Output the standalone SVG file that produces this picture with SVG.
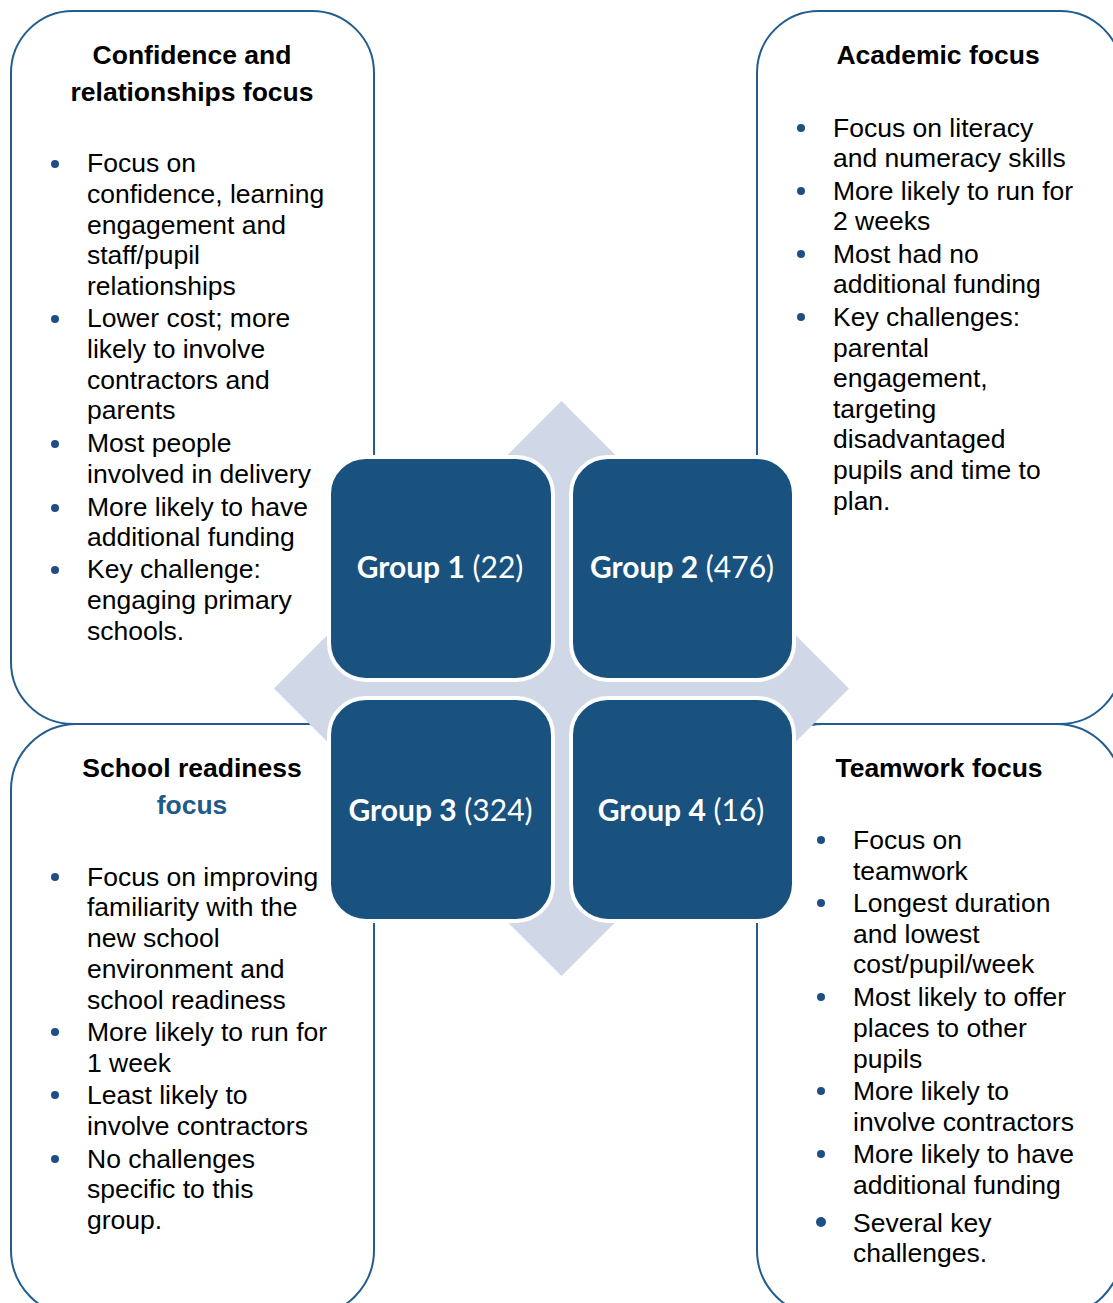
<svg xmlns="http://www.w3.org/2000/svg" width="1113" height="1303" viewBox="0 0 1113 1303">
<style>
.box{fill:#fff;stroke:#215D8E;stroke-width:2}
.grp{fill:#19527F;stroke:#fff;stroke-width:4}
.t{font-family:"Liberation Sans",Arial,sans-serif;font-size:26.5px;fill:#000}
.h{font-family:"Liberation Sans",Arial,sans-serif;font-size:26.5px;font-weight:bold;fill:#000;text-anchor:middle}
.g{font-family:Lato,"Open Sans",sans-serif;font-size:30px;fill:#fff;text-anchor:middle}
.b{fill:#1F4E85}
</style>
<rect width="1113" height="1303" fill="#fff"/>
<g id="connectors"></g>
<g id="confidence">
<rect class="box" x="11" y="11" width="363" height="713" rx="62"/>
</g>
<g id="academic">
<rect class="box" x="757" y="11" width="365" height="713" rx="62"/>
</g>
<g id="readiness">
<rect class="box" x="11" y="724" width="363" height="592" rx="66"/>
</g>
<g id="teamwork">
<rect class="box" x="757" y="724" width="365" height="592" rx="66"/>
</g>
<g id="diamond">
<polygon points="561.5,401 849,688.5 561.5,976 274,688.5" fill="#D0D8E7"/>
</g>
<g id="group1">
<rect class="grp" x="329" y="457" width="224" height="223" rx="37"/>
<text class="g" x="440" y="577.5"><tspan font-weight="bold">Group 1</tspan> (22)</text>
</g>
<g id="group2">
<rect class="grp" x="571" y="457" width="223" height="223" rx="37"/>
<text class="g" x="682" y="577.5"><tspan font-weight="bold">Group 2</tspan> (476)</text>
</g>
<g id="group3">
<rect class="grp" x="329" y="698" width="224" height="223" rx="37"/>
<text class="g" x="440.5" y="820.5"><tspan font-weight="bold">Group 3</tspan> (324)</text>
</g>
<g id="group4">
<rect class="grp" x="571" y="698" width="223" height="223" rx="37"/>
<text class="g" x="681" y="820.5"><tspan font-weight="bold">Group 4</tspan> (16)</text>
</g>
<g id="confidence-text">
<text class="h" x="192" y="64">Confidence and</text>
<text class="h" x="192" y="101">relationships focus</text>
<circle class="b" cx="55" cy="164" r="4"/>
<circle class="b" cx="55" cy="319" r="4"/>
<circle class="b" cx="55" cy="444" r="4"/>
<circle class="b" cx="55" cy="508" r="4"/>
<circle class="b" cx="55" cy="570" r="4"/>
<text class="t" x="87" y="172">Focus on</text>
<text class="t" x="87" y="203">confidence, learning</text>
<text class="t" x="87" y="234">engagement and</text>
<text class="t" x="87" y="264">staff/pupil</text>
<text class="t" x="87" y="295">relationships</text>
<text class="t" x="87" y="327">Lower cost; more</text>
<text class="t" x="87" y="358">likely to involve</text>
<text class="t" x="87" y="389">contractors and</text>
<text class="t" x="87" y="419">parents</text>
<text class="t" x="87" y="452">Most people</text>
<text class="t" x="87" y="483">involved in delivery</text>
<text class="t" x="87" y="516">More likely to have</text>
<text class="t" x="87" y="546">additional funding</text>
<text class="t" x="87" y="578">Key challenge:</text>
<text class="t" x="87" y="609">engaging primary</text>
<text class="t" x="87" y="640">schools.</text>
</g>
<g id="academic-text">
<text class="h" x="938" y="64">Academic focus</text>
<circle class="b" cx="801" cy="128" r="4"/>
<circle class="b" cx="801" cy="191" r="4"/>
<circle class="b" cx="801" cy="254" r="4"/>
<circle class="b" cx="801" cy="317" r="4"/>
<text class="t" x="833" y="136.5">Focus on literacy</text>
<text class="t" x="833" y="166.5">and numeracy skills</text>
<text class="t" x="833" y="199.5">More likely to run for</text>
<text class="t" x="833" y="229.5">2 weeks</text>
<text class="t" x="833" y="262.5">Most had no</text>
<text class="t" x="833" y="292.5">additional funding</text>
<text class="t" x="833" y="325.5">Key challenges:</text>
<text class="t" x="833" y="356.5">parental</text>
<text class="t" x="833" y="386.5">engagement,</text>
<text class="t" x="833" y="417.5">targeting</text>
<text class="t" x="833" y="447.5">disadvantaged</text>
<text class="t" x="833" y="478.5">pupils and time to</text>
<text class="t" x="833" y="509.5">plan.</text>
</g>
<g id="readiness-text">
<text class="h" x="192" y="777">School readiness</text>
<text class="h" x="192" y="814" fill="#1F5A8A" style="fill:#1F5A8A">focus</text>
<circle class="b" cx="55" cy="877" r="4"/>
<circle class="b" cx="55" cy="1032" r="4"/>
<circle class="b" cx="55" cy="1095" r="4"/>
<circle class="b" cx="55" cy="1159" r="4"/>
<text class="t" x="87" y="885.5">Focus on improving</text>
<text class="t" x="87" y="915.5">familiarity with the</text>
<text class="t" x="87" y="946.5">new school</text>
<text class="t" x="87" y="977.5">environment and</text>
<text class="t" x="87" y="1008.5">school readiness</text>
<text class="t" x="87" y="1040.5">More likely to run for</text>
<text class="t" x="87" y="1071.5">1 week</text>
<text class="t" x="87" y="1103.5">Least likely to</text>
<text class="t" x="87" y="1134.5">involve contractors</text>
<text class="t" x="87" y="1167.5">No challenges</text>
<text class="t" x="87" y="1197.5">specific to this</text>
<text class="t" x="87" y="1228.5">group.</text>
</g>
<g id="teamwork-text">
<text class="h" x="939" y="777">Teamwork focus</text>
<circle class="b" cx="821" cy="840" r="4"/>
<circle class="b" cx="821" cy="903" r="4"/>
<circle class="b" cx="821" cy="997" r="4"/>
<circle class="b" cx="821" cy="1091" r="4"/>
<circle class="b" cx="821" cy="1154" r="4"/>
<circle class="b" cx="821" cy="1222" r="5"/>
<text class="t" x="853" y="848.5">Focus on</text>
<text class="t" x="853" y="879.5">teamwork</text>
<text class="t" x="853" y="911.5">Longest duration</text>
<text class="t" x="853" y="942.5">and lowest</text>
<text class="t" x="853" y="972.5">cost/pupil/week</text>
<text class="t" x="853" y="1005.5">Most likely to offer</text>
<text class="t" x="853" y="1036.5">places to other</text>
<text class="t" x="853" y="1067.5">pupils</text>
<text class="t" x="853" y="1099.5">More likely to</text>
<text class="t" x="853" y="1130.5">involve contractors</text>
<text class="t" x="853" y="1162.5">More likely to have</text>
<text class="t" x="853" y="1193.5">additional funding</text>
<text class="t" x="853" y="1231.5">Several key</text>
<text class="t" x="853" y="1261.5">challenges.</text>
</g>
</svg>
